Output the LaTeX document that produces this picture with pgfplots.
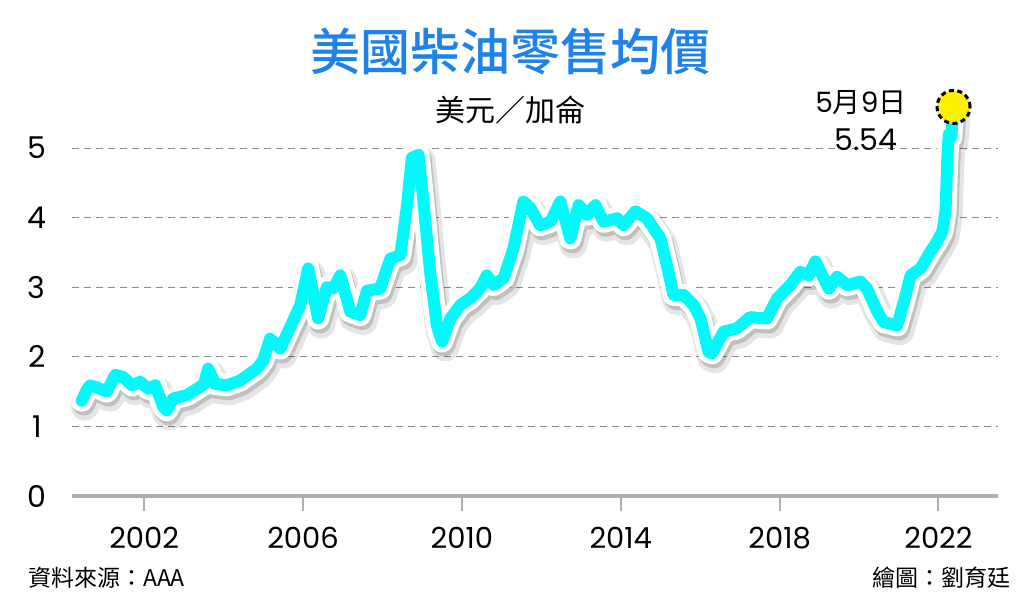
\documentclass[border=0pt]{standalone}
\usepackage{pgfplots}
\pgfplotsset{compat=1.18}
\usepackage{fontspec}
\setmainfont{Poppins}
\newfontfamily\cjk{Noto Sans CJK TC}
\newfontfamily\cjkm{Noto Sans CJK TC Medium}
\definecolor{titleblue}{RGB}{30,130,232}
\definecolor{linecyan}{RGB}{0,250,250}
\definecolor{gridgray}{RGB}{140,140,140}
\definecolor{axisgray}{RGB}{175,175,175}
\pgfplotstableread{
x y
2000.43 1.37
2000.55 1.52
2000.64 1.59
2000.85 1.55
2001.06 1.50
2001.27 1.74
2001.47 1.71
2001.69 1.59
2001.90 1.64
2002.10 1.54
2002.28 1.59
2002.48 1.28
2002.57 1.23
2002.73 1.40
2003.08 1.45
2003.33 1.54
2003.50 1.60
2003.61 1.83
2003.79 1.61
2004.08 1.59
2004.42 1.66
2004.84 1.83
2005.00 1.95
2005.17 2.26
2005.43 2.12
2005.68 2.43
2005.93 2.74
2006.13 3.27
2006.38 2.55
2006.60 3.00
2006.76 2.98
2006.94 3.17
2007.19 2.65
2007.44 2.60
2007.61 2.95
2007.94 2.98
2008.20 3.41
2008.45 3.46
2008.62 4.18
2008.74 4.86
2008.91 4.90
2009.04 4.18
2009.20 3.22
2009.37 2.45
2009.50 2.22
2009.71 2.55
2009.96 2.74
2010.21 2.84
2010.46 2.98
2010.63 3.17
2010.80 3.03
2011.05 3.13
2011.30 3.56
2011.55 4.23
2011.72 4.14
2011.97 3.89
2012.23 3.94
2012.48 4.23
2012.73 3.70
2012.94 4.18
2013.15 4.04
2013.36 4.18
2013.57 3.94
2013.91 3.99
2014.07 3.89
2014.37 4.09
2014.66 3.99
2015.00 3.70
2015.16 3.32
2015.33 2.89
2015.58 2.89
2015.84 2.74
2016.01 2.55
2016.21 2.07
2016.30 2.05
2016.59 2.36
2016.93 2.41
2017.26 2.57
2017.68 2.55
2017.94 2.84
2018.27 3.03
2018.52 3.22
2018.73 3.17
2018.90 3.37
2019.11 3.13
2019.24 2.98
2019.45 3.15
2019.70 3.03
2020.04 3.08
2020.20 2.98
2020.46 2.65
2020.62 2.50
2020.96 2.45
2021.13 2.79
2021.30 3.17
2021.55 3.27
2021.80 3.51
2021.97 3.66
2022.10 3.80
2022.18 4.10
2022.22 4.80
2022.26 5.20
2022.32 5.15
2022.38 5.54
}\diesel
\begin{document}
\begin{tikzpicture}
\path[use as bounding box, fill=white] (0,0) rectangle (1024bp,604bp);
\begin{axis}[
  at={(72.3bp,108bp)}, anchor=south west,
  scale only axis, width=925.7bp, height=403.7bp,
  xmin=2000.19, xmax=2023.5, ymin=0, ymax=5.8,
  clip=false,
  axis lines=left,
  axis line style={-},
  x axis line style={draw=axisgray, line width=3bp},
  y axis line style={draw=none},
  xtick={2002,2006,...,2022},
  ytick={0,1,...,5},
  xtick align=outside,
  major tick length=15bp,
  xtick style={draw=axisgray, line width=2bp},
  ytick style={draw=none},
  ymajorgrids,
  grid style={draw=gridgray, line width=0.9bp, dash pattern=on 7bp off 5bp},
  /pgf/number format/assume math mode=true,
  /pgf/number format/1000 sep={},
  xticklabel style={font=\fontsize{29bp}{29bp}\selectfont, anchor=center, yshift=-27bp, inner sep=0pt},
  yticklabel style={font=\fontsize{30bp}{30bp}\selectfont, anchor=center, xshift=-28bp, inner sep=0pt},
]
\addplot[draw=black, opacity=0.10, line width=28bp, line join=round, line cap=round, xshift=3bp, yshift=-6bp] table {\diesel};
\addplot[draw=black, opacity=0.16, line width=22bp, line join=round, line cap=round, xshift=2bp, yshift=-4bp] table {\diesel};
\addplot[draw=white, line width=22bp, line join=round, line cap=round] table {\diesel};
\addplot[only marks, mark=*, mark size=16.5bp, mark options={fill=yellow, draw=black, line width=3bp, dash pattern=on 5bp off 3.5bp}] coordinates {(2022.38,5.59)};
\addplot[draw=linecyan, line width=12bp, line join=round, line cap=round] table {\diesel};
\end{axis}
\node[text=titleblue, font=\cjkm\fontsize{50bp}{50bp}\selectfont, inner sep=0pt] at (510bp,552bp) {美國柴油零售均價};
\node[font=\cjk\fontsize{30bp}{30bp}\selectfont, inner sep=0pt] at (510bp,494bp) {美元／加侖};
\node[font=\fontsize{28bp}{28bp}\selectfont, inner sep=0pt] at (861bp,501bp) {5{\cjk 月}9{\cjk 日}};
\node[font=\fontsize{30bp}{30bp}\selectfont, inner sep=0pt] at (866bp,464bp) {5.54};
\node[font=\cjk\fontsize{23bp}{23bp}\selectfont, inner sep=0pt, anchor=west] at (28bp,26bp) {資料來源：AAA};
\node[font=\cjk\fontsize{23bp}{23bp}\selectfont, inner sep=0pt, anchor=east] at (1011bp,26bp) {繪圖：劉育廷};
\end{tikzpicture}
\end{document}
